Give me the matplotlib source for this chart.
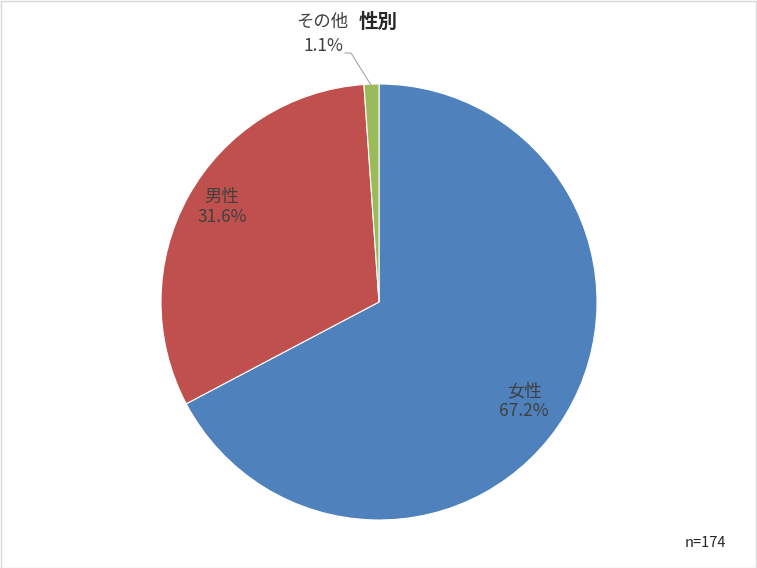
import matplotlib
matplotlib.use("Agg")
import matplotlib.pyplot as plt
from matplotlib.patches import Rectangle

plt.rcParams["font.family"] = ["Noto Sans CJK JP", "DejaVu Sans"]

labels = ["女性", "男性", "その他"]
shares = [67.2, 31.6, 1.1]
colors = ["#4F81BD", "#C0504D", "#9BBB59"]
n_total = 174

W, H = 757, 568
cx, cy, r = 379, 302, 218

fig = plt.figure(figsize=(W / 100, H / 100), dpi=100)
ax = fig.add_axes([(cx - r) / W, (H - cy - r) / H, 2 * r / W, 2 * r / H])

ax.pie(shares, colors=colors, startangle=90, counterclock=False,
       radius=1, wedgeprops=dict(edgecolor="white", linewidth=0.8))
ax.set_xlim(-1, 1)
ax.set_ylim(-1, 1)
ax.set_aspect("equal")
ax.axis("off")


def px(x, y):
    return (x - cx) / r, (cy - y) / r


txt = "#404040"
fs = 12.5
ax.text(*px(222, 207), f"{labels[1]}\n{shares[1]:.1f}%", ha="center", va="center",
        fontsize=fs, color=txt, linespacing=1.15)
ax.text(*px(524, 401), f"{labels[0]}\n{shares[0]:.1f}%", ha="center", va="center",
        fontsize=fs, color=txt, linespacing=1.15)
ax.text(*px(322, 22), labels[2], ha="center", va="center", fontsize=fs, color=txt,
        clip_on=False)
ax.text(*px(323, 46), f"{shares[2]:.1f}%", ha="center", va="center", fontsize=fs,
        color=txt, clip_on=False)

p1, p2, p3 = px(345, 53), px(351, 53), px(371, 85)
ax.plot([p1[0], p2[0], p3[0]], [p1[1], p2[1], p3[1]], color="#A6A6A6",
        linewidth=0.8, clip_on=False)

fig.text(378 / W, 1 - 22 / H, "性別", ha="center", va="center", fontsize=14,
         fontweight="bold", color="#262626")
fig.text(705 / W, 1 - 543 / H, f"n={n_total}", ha="center", va="center",
         fontsize=10.5, color="#262626")

fig.patches.append(Rectangle((0.5 / W, 0.5 / H), 1 - 1.5 / W, 1 - 1.5 / H,
                             transform=fig.transFigure, fill=False,
                             edgecolor="#D9D9D9", linewidth=1))

fig.savefig("out.png", dpi=100)
